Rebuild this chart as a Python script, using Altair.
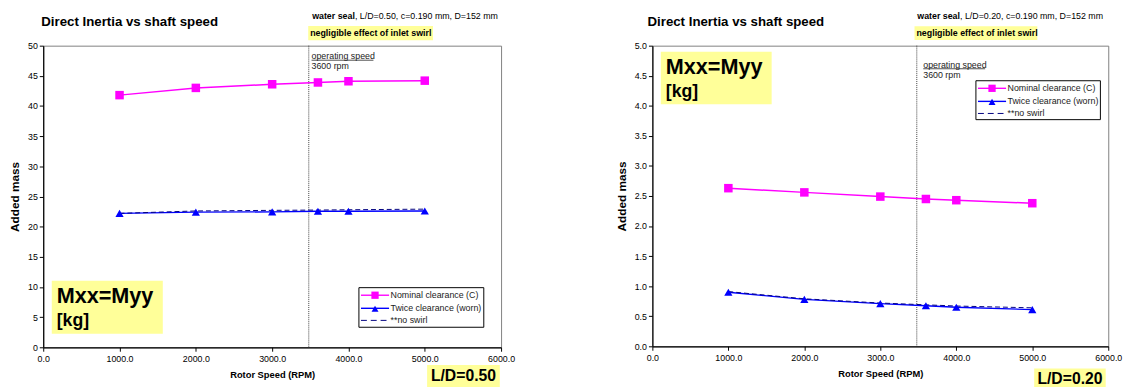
import altair as alt
import pandas as pd

# ---------------- data ----------------
speeds = [1000, 2000, 3000, 3600, 4000, 5000]

nominal_ld050 = [41.8, 43.0, 43.6, 43.9, 44.1, 44.2]
twice_ld050 = [22.2, 22.4, 22.45, 22.55, 22.55, 22.6]
noswirl_ld050 = [22.2, 22.6, 22.7, 22.75, 22.8, 22.9]

nominal_ld020 = [2.63, 2.56, 2.49, 2.45, 2.43, 2.38]
twice_ld020 = [0.90, 0.78, 0.71, 0.675, 0.65, 0.61]
noswirl_ld020 = [0.91, 0.79, 0.72, 0.69, 0.67, 0.64]

series_labels = ["Nominal clearance (C)", "Twice clearance (worn)", "**no swirl"]
x_tick_values = [0, 1000, 2000, 3000, 4000, 5000, 6000]
y_ticks_ld050 = [0, 5, 10, 15, 20, 25, 30, 35, 40, 45, 50]
y_ticks_ld020 = [0.0, 0.5, 1.0, 1.5, 2.0, 2.5, 3.0, 3.5, 4.0, 4.5, 5.0]
operating_rpm = [3480]

title_text = "Direct Inertia vs shaft speed"
subtitle_bold = "water seal"
subtitle_ld050 = ", L/D=0.50, c=0.190 mm, D=152 mm"
subtitle_ld020 = ", L/D=0.20, c=0.190 mm, D=152 mm"
swirl_note = "negligible effect of inlet swirl"
op_label = "operating speed"
op_value = "3600 rpm"
coef_line1 = "Mxx=Myy"
coef_line2 = "[kg]"
ld_label_050 = "L/D=0.50"
ld_label_020 = "L/D=0.20"

FONT = "Liberation Sans"
YELLOW = "#FFFF99"
MAGENTA = "#FF00FF"
BLUE = "#0000FF"
NAVY = "#000080"


def one_row():
    return pd.DataFrame({"k": [0]})


def box(x1, x2, y1, y2, fill, stroke=None):
    kw = dict(fill=fill)
    if stroke:
        kw.update(stroke=stroke, strokeWidth=1)
    return alt.Chart(one_row()).mark_rect(**kw).encode(
        x=alt.value(x1), x2=alt.value(x2), y=alt.value(y1), y2=alt.value(y2)
    )


def label(text, x, y, size, bold=False, align="left", color="black"):
    return alt.Chart(one_row()).mark_text(
        text=text, align=align, baseline="middle", font=FONT, fontSize=size,
        fontWeight="bold" if bold else "normal", color=color,
    ).encode(x=alt.value(x), y=alt.value(y))


def hline(x1, x2, y, color, width=1, dash=None):
    kw = dict(color=color, strokeWidth=width)
    if dash:
        kw["strokeDash"] = dash
    return alt.Chart(one_row()).mark_rule(**kw).encode(
        x=alt.value(x1), x2=alt.value(x2), y=alt.value(y)
    )


def marker(x, y, shape, color, size):
    return alt.Chart(one_row()).mark_point(
        shape=shape, filled=True, color=color, size=size, opacity=1
    ).encode(x=alt.value(x), y=alt.value(y))


def panel(nominal, twice, noswirl, y_ticks, y_format, subtitle, ld_text, P, width, height):
    xs = alt.Scale(domain=[0, 6000], nice=False, zero=False)
    ys = alt.Scale(domain=[y_ticks[0], y_ticks[-1]], nice=False, zero=False)
    xaxis = alt.Axis(values=x_tick_values, format=".1f", title="Rotor Speed (RPM)",
                     grid=False, labelFlush=False, tickSize=4, labelPadding=3,
                     titlePadding=7, titleFontSize=9.5, titleFontWeight="bold")
    yaxis = alt.Axis(values=y_ticks, format=y_format, title="Added mass",
                     grid=False, labelFlush=False, tickSize=4, labelPadding=2,
                     titlePadding=6, titleFontSize=12, titleFontWeight="bold")

    def enc(ch):
        return ch.encode(
            x=alt.X("speed:Q", scale=xs, axis=xaxis),
            y=alt.Y("mass:Q", scale=ys, axis=yaxis),
        )

    df_nom = pd.DataFrame({"speed": speeds, "mass": nominal})
    df_tw = pd.DataFrame({"speed": speeds, "mass": twice})
    df_ns = pd.DataFrame({"speed": speeds, "mass": noswirl})
    df_op = pd.DataFrame({"speed": operating_rpm})

    op_rule = alt.Chart(df_op).mark_rule(color="#404040", strokeDash=[1, 1], strokeWidth=1).encode(
        x=alt.X("speed:Q", scale=xs, axis=xaxis)
    )
    nom_line = enc(alt.Chart(df_nom).mark_line(color=MAGENTA, strokeWidth=1.5))
    nom_pts = enc(alt.Chart(df_nom).mark_point(shape="square", filled=True, color=MAGENTA, size=75, opacity=1))
    tw_line = enc(alt.Chart(df_tw).mark_line(color=BLUE, strokeWidth=1.4))
    tw_pts = enc(alt.Chart(df_tw).mark_point(shape="triangle-up", filled=True, color=BLUE, size=70, opacity=1))
    ns_line = enc(alt.Chart(df_ns).mark_line(color=NAVY, strokeWidth=1, strokeDash=[5, 3]))

    layers = [op_rule, nom_line, tw_line, ns_line, nom_pts, tw_pts]

    # header texts
    layers += [
        label(title_text, P["title_x"], -24.4, 13.5, bold=True),
        label(subtitle_bold, P["sub_x"], P["sub_y"], 9, bold=True),
        label(subtitle, P["sub_x"] + 43.5, P["sub_y"], 9),
        box(P["neg_x1"], P["neg_x2"], P["neg_y1"], P["neg_y2"], YELLOW),
        label(swirl_note, P["neg_x1"] + 2, (P["neg_y1"] + P["neg_y2"]) / 2, 9, bold=True),
    ]
    # operating speed annotation
    layers += [
        label(op_label, P["op_x"], P["op_y"], 9, color="#222222"),
        hline(P["op_x"], P["op_x"] + 63, P["op_y"] + 4.2, "#222222", 0.8),
        label(op_value, P["op_x"], P["op_y"] + 10.3, 9, color="#222222"),
    ]
    # coefficient box
    layers += [
        box(P["m_x1"], P["m_x2"], P["m_y1"], P["m_y2"], YELLOW),
        label(coef_line1, P["m_x1"] + 5, P["m_y1"] + 15.3, 22, bold=True),
        label(coef_line2, P["m_x1"] + 5, P["m_y1"] + 41.3, 18, bold=True),
    ]
    # legend
    lx1, lx2, ly1, ly2 = P["leg_x1"], P["leg_x2"], P["leg_y1"], P["leg_y2"]
    e1, e2, e3 = ly1 + 7.7, ly1 + 21, ly1 + 33.3
    sx1, sx2 = lx1 + 2.1, lx1 + 30.7
    sm = (sx1 + sx2) / 2
    layers += [
        box(lx1, lx2, ly1, ly2, "white", stroke="black"),
        hline(sx1, sx2, e1, MAGENTA, 1.4),
        marker(sm, e1, "square", MAGENTA, 55),
        label(series_labels[0], sx2 + 1.5, e1, 9, color="#222222"),
        hline(sx1, sx2, e2, BLUE, 1.4),
        marker(sm, e2 + 0.5, "triangle-up", BLUE, 50),
        label(series_labels[1], sx2 + 1.5, e2, 9, color="#222222"),
        hline(sx1, sx2, e3, NAVY, 1, dash=[6, 4]),
        label(series_labels[2], sx2 + 1.5, e3, 9, color="#222222"),
    ]
    # L/D box
    layers += [
        box(P["ld_x1"], P["ld_x2"], P["ld_y1"], P["ld_y2"], YELLOW),
        label(ld_text, (P["ld_x1"] + P["ld_x2"]) / 2, P["ld_y1"] + 10.8, 16, bold=True, align="center"),
    ]
    return alt.layer(*layers).properties(width=width, height=height)


P_left = dict(
    title_x=-2, sub_x=273.7, sub_y=-30,
    neg_x1=269.7, neg_x2=396.7, neg_y1=-20, neg_y2=-5.4,
    op_x=273.1, op_y=10.6,
    m_x1=8.7, m_x2=121.7, m_y1=239.3, m_y2=293.3,
    leg_x1=321.3, leg_x2=448.4, leg_y1=246.3, leg_y2=286.6,
    ld_x1=390.7, ld_x2=464.7, ld_y1=325, ld_y2=347.5,
)
P_right = dict(
    title_x=-5, sub_x=269.6, sub_y=-30.3,
    neg_x1=266.8, neg_x2=391.8, neg_y1=-19.7, neg_y2=-5.7,
    op_x=275.7, op_y=19.3,
    m_x1=8.6, m_x2=121.4, m_y1=6.3, m_y2=59.7,
    leg_x1=329.3, leg_x2=456, leg_y1=35.7, leg_y2=75.3,
    ld_x1=388.6, ld_x2=461.4, ld_y1=328.7, ld_y2=347.5,
)

left = panel(nominal_ld050, twice_ld050, noswirl_ld050, y_ticks_ld050, "d",
             subtitle_ld050, ld_label_050, P_left, 466, 307)
right = panel(nominal_ld020, twice_ld020, noswirl_ld020, y_ticks_ld020, ".1f",
              subtitle_ld020, ld_label_020, P_right, 464, 306)

chart = (
    alt.hconcat(left, right, spacing=100)
    .properties(padding={"left": 8, "top": 8, "right": 0, "bottom": 0}, background="white")
    .configure_view(stroke="#808080", strokeWidth=1)
    .configure_axis(
        domainColor="black", domainWidth=1.2, tickColor="black", tickWidth=1,
        labelColor="black", titleColor="black", labelFont=FONT, titleFont=FONT,
        labelFontSize=9,
    )
)

chart.save("out.html", embed_options={"renderer": "svg", "actions": False})
